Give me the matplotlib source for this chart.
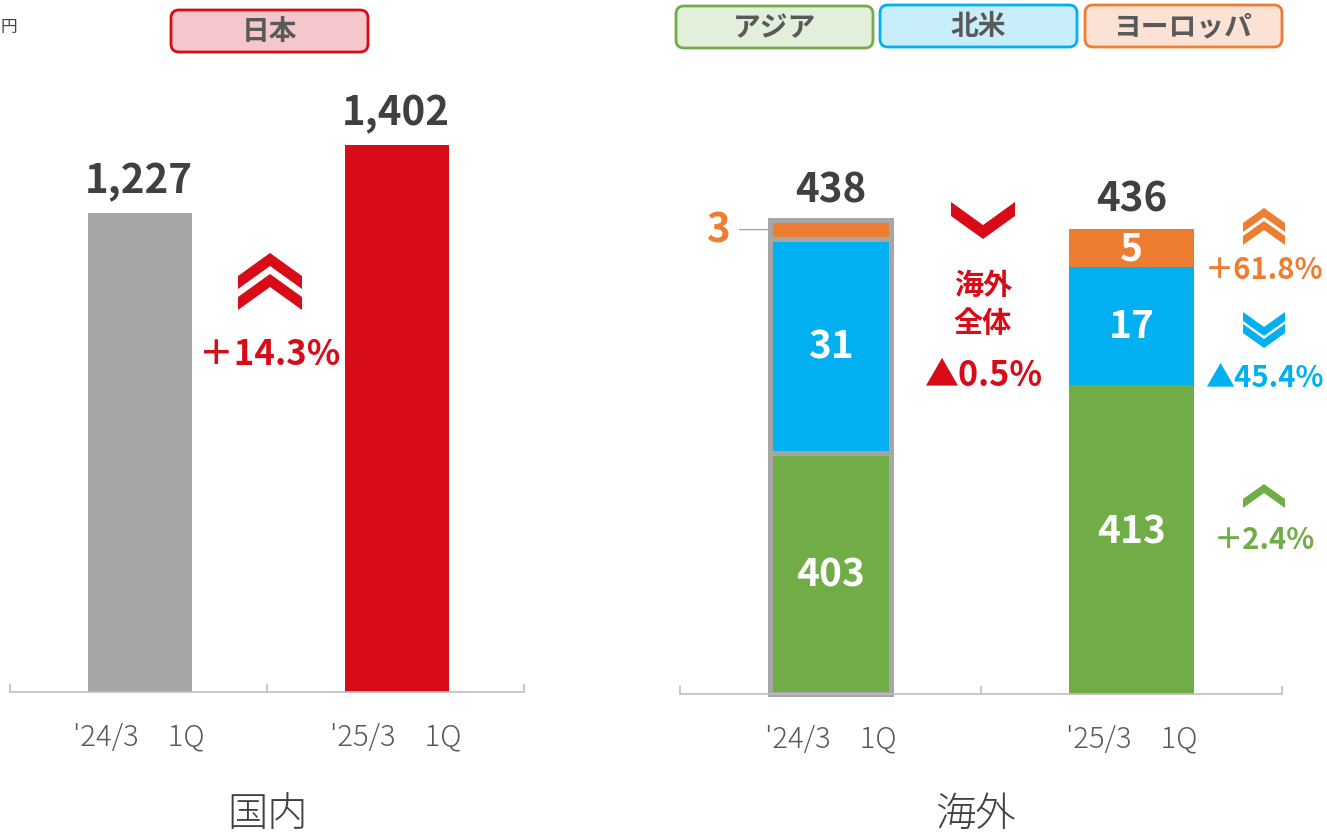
import matplotlib
matplotlib.use("Agg")
import matplotlib.pyplot as plt
from matplotlib.patches import FancyBboxPatch, Polygon
from matplotlib.transforms import IdentityTransform
import numpy as np

plt.rcParams['font.family'] = ['Noto Sans CJK JP', 'DejaVu Sans']

# ---------------- data ----------------
periods = ["'24/3　1Q", "'25/3　1Q"]
domestic_values = [1227, 1402]
domestic_change = "＋14.3%"

regions = ['アジア', '北米', 'ヨーロッパ']
asia_values = [403, 413]
na_values = [31, 17]
eu_values = [3, 5]
overseas_totals = [438, 436]
# segment heights as drawn in the reference (segments are not drawn to scale there)
asia_drawn = [225, 289]
na_drawn = [200, 110]
eu_drawn = [18, 36]

asia_change = "＋2.4%"
na_change = "▲45.4%"
eu_change = "＋61.8%"
overseas_change = "▲0.5%"

# ---------------- style ----------------
W, H = 1327, 837
C_GRAY = '#A5A5A5'
C_RED = '#D70C18'
C_GREEN = '#70AD47'
C_BLUE = '#00B0F0'
C_ORANGE = '#ED7D31'
C_TEXT = '#404040'
C_LABEL = '#595959'
C_AXIS = '#BFBFBF'

fig = plt.figure(figsize=(W / 100, H / 100), dpi=100)
IT = IdentityTransform()


def P(x, y):
    return (x, H - y)


def ax_rect(x0, x1, ytop, ybot):
    return [x0 / W, 1 - ybot / H, (x1 - x0) / W, (ybot - ytop) / H]


def style_axis(ax):
    for s in ['left', 'right', 'top']:
        ax.spines[s].set_visible(False)
    ax.spines['bottom'].set_color(C_AXIS)
    ax.spines['bottom'].set_linewidth(1.2)
    ax.set_yticks([])
    ax.set_xlim(-0.5, 1.5)
    ax.set_xticks([-0.5, 0.5, 1.5])
    ax.set_xticklabels(['', '', ''])
    ax.tick_params(axis='x', which='major', direction='in', length=6, width=1.2, color=C_AXIS)
    ax.set_xticks([0, 1], minor=True)
    ax.set_xticklabels(periods, minor=True, fontweight='light')
    ax.tick_params(axis='x', which='minor', length=0, pad=21, labelsize=21, labelcolor=C_LABEL)


# ---------------- domestic ----------------
ax1 = fig.add_axes(ax_rect(10, 524, 60, 693))
style_axis(ax1)
ax1.set_ylim(0, (693 - 60) / 0.39)
x = np.arange(len(periods))
ax1.bar(x + 0.005, domestic_values, width=0.405, color=[C_GRAY, C_RED], zorder=2)
for xi, v in zip(x, domestic_values):
    ax1.annotate(f"{v:,}", xy=(xi, v), xytext=(0, 15), textcoords='offset points',
                 ha='center', va='baseline', fontsize=29, fontweight='bold', color=C_TEXT)

# ---------------- overseas ----------------
ax2 = fig.add_axes(ax_rect(680, 1282, 60, 695))
style_axis(ax2)
ax2.set_ylim(0, (695 - 60) / 1.07)
widths = [0.40, 0.415]
edges = ['#A6A6A6', 'none']
lws = [3.6, 0]
label_shift = [[0, 0], [0, 0], [0, 0]]
bottom = np.zeros(2)
seg_data = [(asia_drawn, asia_values, C_GREEN), (na_drawn, na_values, C_BLUE), (eu_drawn, eu_values, C_ORANGE)]
for k, (drawn, vals, col) in enumerate(seg_data):
    for i in range(2):
        ax2.bar(x[i], drawn[i], bottom=bottom[i], width=widths[i], color=col,
                edgecolor=edges[i], linewidth=lws[i], zorder=2, clip_on=False)
        if not (k == 2 and i == 0):
            yc = bottom[i] + drawn[i] / 2 + (8 if (k == 0 and i == 1) else 0)
            ax2.text(x[i], yc, f"{vals[i]}", ha='center', va='center',
                     fontsize=28, fontweight='bold', color='white', zorder=3)
    bottom += np.array(drawn)

# small label for the thin European segment
ax2.annotate(f"{eu_values[0]}", xy=(x[0] - widths[0] / 2, bottom[0] - eu_drawn[0] / 2),
             xytext=(-29, 0), textcoords='offset points', ha='right', va='center',
             fontsize=29, fontweight='bold', color=C_ORANGE,
             arrowprops=dict(arrowstyle='-', color='#A6A6A6', lw=1, shrinkA=5, shrinkB=2))

for i in range(2):
    ax2.annotate(f"{overseas_totals[i]}", xy=(x[i], bottom[i]), xytext=(0, 13),
                 textcoords='offset points', ha='center', va='baseline',
                 fontsize=29, fontweight='bold', color=C_TEXT)

# ---------------- section titles ----------------
fig.text(*P(268, 815), '国内', transform=IT, ha='center', va='center', fontsize=29,
         color=C_TEXT, fontweight='light')
fig.text(*P(975, 815), '海外', transform=IT, ha='center', va='center', fontsize=29,
         color=C_TEXT, fontweight='light')
fig.text(*P(0, 28), '円', transform=IT, ha='left', va='center', fontsize=12, color=C_TEXT)

# ---------------- legend boxes ----------------
boxes = [('日本', 171, 11, '#F5C6CB', C_RED)]
box_pos = [(676, 7), (880, 6), (1085, 6)]
box_fill = ['#E2EFDA', '#C9EEFB', '#FBE2D5']
box_edge = [C_GREEN, C_BLUE, C_ORANGE]
for r, (bx, by), f, e in zip(regions, box_pos, box_fill, box_edge):
    boxes.append((r, bx, by, f, e))
for label, bx, by, fc, ec in boxes:
    bw, bh = 197, 42
    patch = FancyBboxPatch(P(bx, by + bh), bw, bh, boxstyle='round,pad=0,rounding_size=8',
                           transform=IT, facecolor=fc, edgecolor=ec, linewidth=2)
    fig.add_artist(patch)
    fig.text(*P(bx + bw / 2, by + bh / 2), label, transform=IT, ha='center', va='center',
             fontsize=20, fontweight='bold', color=C_LABEL)


# ---------------- chevrons ----------------
def chevron(cx, ytop, w, sh, t, color, n=1, gap=0, up=True):
    for k in range(n):
        y0 = ytop + k * gap
        if up:
            pts = [(cx - w / 2, y0 + sh), (cx, y0), (cx + w / 2, y0 + sh),
                   (cx + w / 2, y0 + sh + t), (cx, y0 + t), (cx - w / 2, y0 + sh + t)]
        else:
            pts = [(cx - w / 2, y0), (cx, y0 + sh), (cx + w / 2, y0),
                   (cx + w / 2, y0 + t), (cx, y0 + sh + t), (cx - w / 2, y0 + t)]
        fig.add_artist(Polygon([P(px, py) for px, py in pts], closed=True, transform=IT,
                               facecolor=color, edgecolor='none'))


chevron(270, 254, 64, 23, 13, C_RED, n=2, gap=21, up=True)
chevron(983, 203, 64, 23, 14, C_RED, n=1, up=False)
chevron(1264, 209, 42, 15, 9, C_ORANGE, n=2, gap=13, up=True)
chevron(1264, 313, 42, 15, 9, C_BLUE, n=2, gap=12, up=False)
chevron(1264, 485, 42, 15, 9, C_GREEN, n=1, up=True)

# ---------------- change labels ----------------
fig.text(*P(270, 355), domestic_change, transform=IT, ha='center', va='center',
         fontsize=25, fontweight='bold', color=C_RED)
fig.text(*P(983, 285), '海外', transform=IT, ha='center', va='center',
         fontsize=21, fontweight='bold', color=C_RED)
fig.text(*P(983, 323), '全体', transform=IT, ha='center', va='center',
         fontsize=21, fontweight='bold', color=C_RED)
fig.text(*P(984, 376), overseas_change, transform=IT, ha='center', va='center',
         fontsize=24.5, fontweight='bold', color=C_RED)
fig.text(*P(1264, 270), eu_change, transform=IT, ha='center', va='center',
         fontsize=21, fontweight='bold', color=C_ORANGE)
fig.text(*P(1264, 378), na_change, transform=IT, ha='center', va='center',
         fontsize=21, fontweight='bold', color=C_BLUE)
fig.text(*P(1264, 540), asia_change, transform=IT, ha='center', va='center',
         fontsize=21, fontweight='bold', color=C_GREEN)

fig.savefig('out.png', dpi=100)
